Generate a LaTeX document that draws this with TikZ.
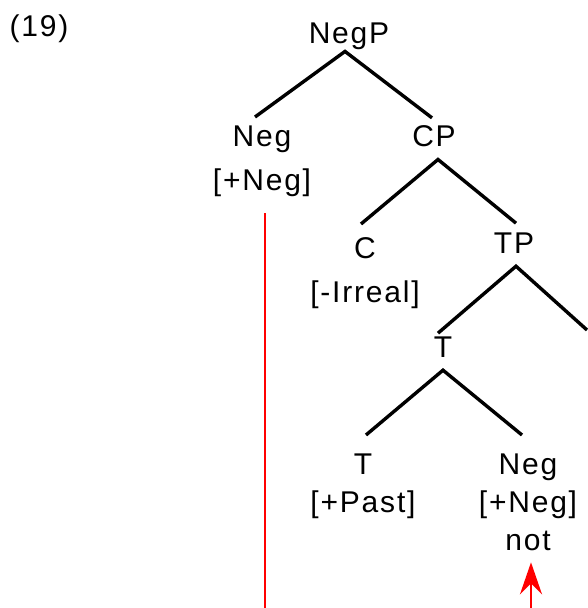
\documentclass[tikz,border=0pt]{standalone}
\usepackage{fontspec}
\setmainfont[LetterSpace=6]{Liberation Sans}
\usetikzlibrary{calc,arrows.meta}
\begin{document}
\begin{tikzpicture}[x=1pt,y=-1pt,
  cat/.style={inner sep=0pt, align=center, font=\fontsize{30}{38}\selectfont},
  catwide/.style={cat, font=\fontsize{30}{44}\selectfont},
  branch/.style={draw=black, line width=3.4pt},
  redline/.style={draw=red, line width=2.8pt},
]
\useasboundingbox (0,0) rectangle (587,608);
% label
\node[cat, anchor=base] (num) at (39,36) {(19)};
% nodes
\node[cat, anchor=base] (negp) at (349,43) {NegP};
\node[catwide, anchor=north] (neg) at (262,126) {Neg\\{}[+Neg]};
\node[cat, anchor=base] (cp) at (434,146) {CP};
\node[catwide, anchor=north] (c) at (365,237) {C\\{}[-Irreal]};
\node[cat, anchor=base] (tp) at (514,253) {TP};
\node[cat, anchor=base] (tbar) at (443,357) {T};
\node[cat, anchor=north] (t) at (363,454) {T\\{}[+Past]};
\node[cat, anchor=north] (neg2) at (528,454) {Neg\\{}[+Neg]\\not};
\coordinate (vpend) at (587,330);
\coordinate (redbottom) at (265,608);
\coordinate (arrowbottom) at (531,608);
% branches
\draw[branch] ([xshift=-7pt,yshift=9pt]neg.north) -- ([xshift=-4pt,yshift=-2pt]negp.south) -- ([xshift=-2pt,yshift=7pt]cp.north);
\draw[branch] ([xshift=-4pt,yshift=13pt]c.north) -- ([xshift=4pt,yshift=-13pt]cp.south) -- ([xshift=2pt,yshift=9pt]tp.north);
\draw[branch] ([xshift=-5pt,yshift=3pt]tbar.north) -- ([xshift=2pt,yshift=-13pt]tp.south) -- (vpend);
\draw[branch] ([xshift=3pt,yshift=19pt]t.north) -- ([yshift=-13pt]tbar.south) -- ([xshift=-6pt,yshift=19pt]neg2.north);
% movement lines
\draw[redline] ([xshift=3pt,yshift=-16pt]neg.south) -- (redbottom);
\draw[redline, -{Stealth[length=32pt,width=22pt,inset=11pt]}] (arrowbottom) -- ([xshift=3pt,yshift=-11pt]neg2.south);
\end{tikzpicture}
\end{document}
